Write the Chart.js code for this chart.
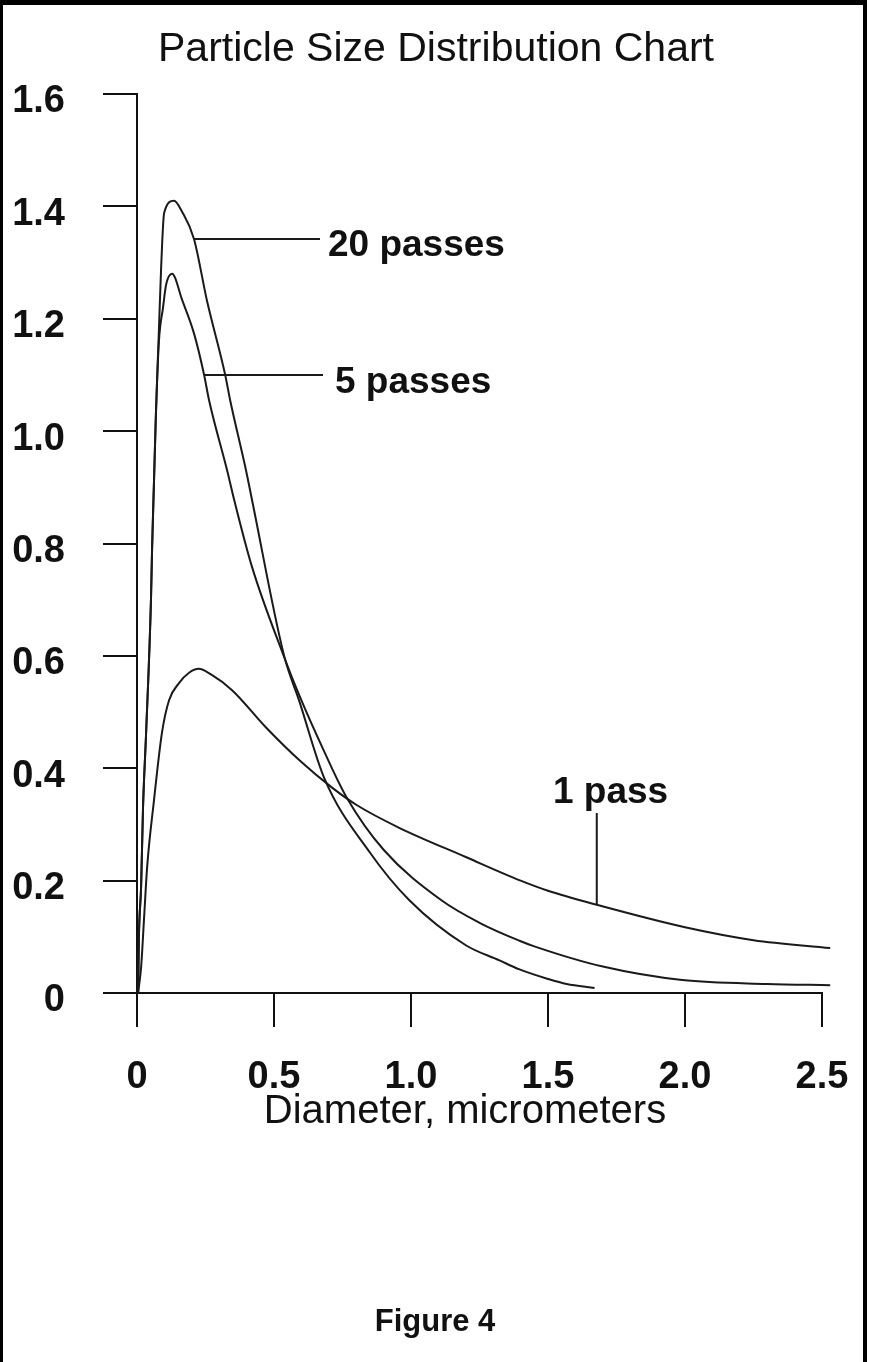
<!DOCTYPE html>
<html><head><meta charset="utf-8">
<script src="https://cdn.jsdelivr.net/npm/chart.js@4.4.1/dist/chart.umd.min.js"></script>
<style>
html,body{margin:0;padding:0;background:#fff;}
#wrap{position:relative;width:870px;height:1362px;overflow:hidden;}
#frame{position:absolute;left:0;top:0;width:867px;height:1362px;box-sizing:border-box;border-left:3px solid #000;border-top:5px solid #000;border-right:4px solid #000;pointer-events:none;}
canvas{display:block;}
</style></head><body>
<div id="wrap"><canvas id="c" width="870" height="1362"></canvas><div id="frame"></div></div>
<script>
// ---- data ----
const chartTitle = 'Particle Size Distribution Chart';
const xAxisTitle = 'Diameter, micrometers';
const caption = 'Figure 4';
const xTickValues = [0, 0.5, 1.0, 1.5, 2.0, 2.5];
const xTickLabels = ['0', '0.5', '1.0', '1.5', '2.0', '2.5'];
const yTickValues = [0, 0.2, 0.4, 0.6, 0.8, 1.0, 1.2, 1.4, 1.6];
const yTickLabels = ['0', '0.2', '0.4', '0.6', '0.8', '1.0', '1.2', '1.4', '1.6'];
const seriesNames = ['1 pass', '5 passes', '20 passes'];

const onePassX = [0.004, 0.015, 0.026, 0.037, 0.062, 0.091, 0.117, 0.154, 0.19, 0.225, 0.27, 0.347, 0.47, 0.60, 0.713, 0.80, 0.957, 1.20, 1.40, 1.50, 1.678, 2.0, 2.25, 2.53];
const onePassY = [0, 0.046, 0.135, 0.224, 0.343, 0.463, 0.521, 0.552, 0.570, 0.577, 0.567, 0.539, 0.473, 0.411, 0.365, 0.335, 0.294, 0.242, 0.200, 0.182, 0.157, 0.117, 0.094, 0.080];

const fivePassX = [0.004, 0.007, 0.015, 0.022, 0.033, 0.051, 0.055, 0.062, 0.069, 0.080, 0.095, 0.106, 0.128, 0.165, 0.208, 0.245, 0.263, 0.329, 0.355, 0.42, 0.537, 0.592, 0.683, 0.764, 0.90, 1.111, 1.25, 1.396, 1.45, 1.70, 1.99, 2.30, 2.53];
const fivePassY = [0, 0.10, 0.19, 0.33, 0.46, 0.70, 0.79, 0.91, 1.03, 1.16, 1.22, 1.26, 1.28, 1.233, 1.174, 1.10, 1.055, 0.93, 0.877, 0.758, 0.598, 0.530, 0.430, 0.349, 0.255, 0.165, 0.125, 0.093, 0.083, 0.047, 0.023, 0.016, 0.014];

const twentyPassX = [0.004, 0.007, 0.015, 0.022, 0.033, 0.051, 0.055, 0.062, 0.069, 0.080, 0.088, 0.099, 0.135, 0.165, 0.208, 0.255, 0.322, 0.34, 0.398, 0.42, 0.537, 0.592, 0.683, 0.85, 0.994, 1.20, 1.323, 1.396, 1.50, 1.568, 1.67];
const twentyPassY = [0, 0.10, 0.19, 0.33, 0.46, 0.70, 0.79, 0.91, 1.03, 1.18, 1.29, 1.388, 1.41, 1.39, 1.342, 1.233, 1.10, 1.055, 0.93, 0.877, 0.60, 0.520, 0.383, 0.250, 0.165, 0.085, 0.058, 0.042, 0.025, 0.016, 0.009];

// ---- build ----
const FONT = "'Liberation Sans', Arial, Helvetica, sans-serif";
Chart.defaults.font.family = FONT;
Chart.defaults.color = '#111';
const toPts = (xs, ys) => xs.map((v, i) => ({x: v, y: ys[i]}));
const lineStyle = {borderColor: '#1a1a1a', borderWidth: 2, pointRadius: 0, fill: false, cubicInterpolationMode: 'monotone', clip: false};

const annotations = [
  {text: '20 passes', ax: 0.208, ay: 1.342, kind: 'h', endPx: 320, textPx: 328, dy: 17},
  {text: '5 passes', ax: 0.245, ay: 1.10, kind: 'h', endPx: 323, textPx: 335, dy: 18},
  {text: '1 pass', ax: 1.678, ay: 0.157, kind: 'v', endPy: 813, textPx: 553, textPy: 803}
];

const textPlugin = {
  id: 'texts',
  afterDraw(chart) {
    const {ctx} = chart;
    const xs = chart.scales.x, ys = chart.scales.y;
    ctx.save();
    ctx.fillStyle = '#111';
    ctx.strokeStyle = '#1a1a1a';
    ctx.lineWidth = 2;
    ctx.textAlign = 'center';
    ctx.textBaseline = 'middle';
    ctx.font = '41px ' + FONT;
    ctx.fillText(chartTitle, 436, 50);
    ctx.font = '40px ' + FONT;
    ctx.fillText(xAxisTitle, 465, 1112);
    ctx.font = 'bold 31px ' + FONT;
    ctx.fillText(caption, 435, 1322);
    ctx.font = 'bold 37px ' + FONT;
    ctx.textAlign = 'left';
    ctx.textBaseline = 'alphabetic';
    annotations.forEach(a => {
      const px = xs.getPixelForValue(a.ax), py = ys.getPixelForValue(a.ay);
      ctx.beginPath();
      if (a.kind === 'h') {
        ctx.moveTo(px, py); ctx.lineTo(a.endPx, py);
        ctx.stroke();
        ctx.fillText(a.text, a.textPx, py + a.dy);
      } else {
        ctx.moveTo(px, py); ctx.lineTo(px, a.endPy);
        ctx.stroke();
        ctx.fillText(a.text, a.textPx, a.textPy);
      }
    });
    ctx.restore();
  }
};

const axisCommon = {
  grid: {drawOnChartArea: false, drawTicks: true, tickLength: 34, color: '#111', lineWidth: 2},
  border: {display: true, color: '#111', width: 2}
};

new Chart(document.getElementById('c'), {
  type: 'line',
  data: {
    datasets: [
      Object.assign({label: seriesNames[0], data: toPts(onePassX, onePassY)}, lineStyle),
      Object.assign({label: seriesNames[1], data: toPts(fivePassX, fivePassY)}, lineStyle),
      Object.assign({label: seriesNames[2], data: toPts(twentyPassX, twentyPassY)}, lineStyle)
    ]
  },
  options: {
    responsive: false,
    animation: false,
    devicePixelRatio: 1,
    layout: {padding: {left: 0, right: 48, top: 94, bottom: 0}},
    plugins: {
      legend: {display: false},
      tooltip: {enabled: false},
      title: {display: false}
    },
    scales: {
      x: Object.assign({}, axisCommon, {
        type: 'linear', position: 'bottom', min: 0, max: 2.5,
        afterBuildTicks: s => { s.ticks = xTickValues.map(v => ({value: v})); },
        afterFit: s => { s.height = 369; },
        ticks: {autoSkip: false, maxRotation: 0, padding: 14, color: '#111', font: {size: 38, weight: 'bold', family: FONT, lineHeight: 1.9},
          callback: (v, i) => xTickLabels[i]}
      }),
      y: Object.assign({}, axisCommon, {
        type: 'linear', position: 'left', min: 0, max: 1.6,
        afterBuildTicks: s => { s.ticks = yTickValues.map(v => ({value: v})); },
        afterFit: s => { s.width = 137; },
        ticks: {autoSkip: false, padding: 38, labelOffset: 8, color: '#111', font: {size: 38, weight: 'bold', family: FONT},
          callback: (v, i) => yTickLabels[i]}
      })
    }
  },
  plugins: [textPlugin]
});
</script>
</body></html>
